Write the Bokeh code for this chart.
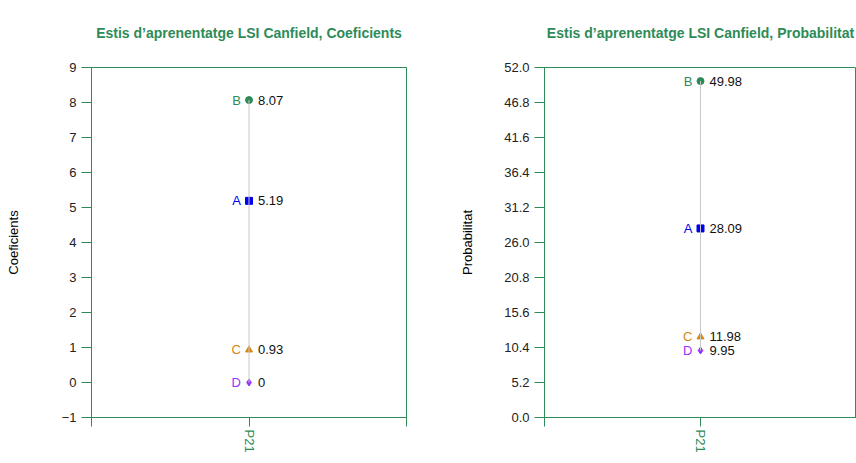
from bokeh.plotting import figure
from bokeh.layouts import row
from bokeh.models import ColumnDataSource, FixedTicker, Title, PrintfTickFormatter, Range1d
from bokeh.core.properties import value
from bokeh.embed import file_html
from bokeh.resources import INLINE

categories = ["P21"]
groups = ["B", "A", "C", "D"]
coef_values = [8.07, 5.19, 0.93, 0]
prob_values = [49.98, 28.09, 11.98, 9.95]
coef_labels = ["8.07", "5.19", "0.93", "0"]
prob_labels = ["49.98", "28.09", "11.98", "9.95"]
coef_ticks = [-1, 0, 1, 2, 3, 4, 5, 6, 7, 8, 9]
prob_ticks = [0.0, 5.2, 10.4, 15.6, 20.8, 26.0, 31.2, 36.4, 41.6, 46.8, 52.0]
group_colors = ["#2e8b57", "#0000ee", "#d4870e", "#9b30ff"]
group_markers = ["circle", "square", "triangle", "diamond"]

GREEN = "#2e8b57"
FONT = "Liberation Sans"
FS = "13px"


def make_panel(title, ylabel, values, labels, ticks, fmt, width, border_left, border_right,
               label_standoff, overrides):
    xpos = [categories.index("P21") + 1] * len(values)
    p = figure(width=width, height=460, output_backend="svg", toolbar_location=None,
               x_range=Range1d(0, 2), y_range=Range1d(ticks[0], ticks[-1]),
               min_border_left=border_left, min_border_right=border_right,
               min_border_top=67, min_border_bottom=43)
    p.title = Title(text=title, align="center", vertical_align="top", text_color=GREEN,
                    text_font_size="14px", text_font_style="bold", text_font=FONT,
                    standoff=49)
    p.grid.visible = False
    p.background_fill_color = "white"
    p.border_fill_color = "white"
    p.outline_line_color = GREEN
    p.outline_line_width = 1

    # axes
    p.yaxis.ticker = FixedTicker(ticks=ticks)
    if fmt:
        p.yaxis.formatter = PrintfTickFormatter(format=fmt)
    if overrides:
        p.yaxis.major_label_overrides = overrides
    p.yaxis.axis_label = ylabel
    p.yaxis.axis_label_text_font = FONT
    p.yaxis.axis_label_text_font_size = FS
    p.yaxis.axis_label_text_font_style = "normal"
    p.yaxis.axis_label_text_color = "black"
    p.yaxis.axis_label_standoff = label_standoff
    p.yaxis.major_label_text_font = FONT
    p.yaxis.major_label_text_font_size = FS
    p.yaxis.major_label_text_color = "#222222"
    p.yaxis.major_label_standoff = 5
    p.yaxis.axis_line_color = GREEN
    p.yaxis.major_tick_line_color = GREEN
    p.yaxis.major_tick_out = 10
    p.yaxis.major_tick_in = 0
    p.yaxis.minor_tick_line_color = None

    p.xaxis.ticker = FixedTicker(ticks=[0, 1, 2])
    p.xaxis.major_label_overrides = {0: "", 1: categories[0], 2: ""}
    p.xaxis.major_label_orientation = "vertical"
    p.xaxis.major_label_text_font = FONT
    p.xaxis.major_label_text_font_size = FS
    p.xaxis.major_label_text_color = GREEN
    p.xaxis.major_label_standoff = 3
    p.xaxis.axis_line_color = GREEN
    p.xaxis.major_tick_line_color = GREEN
    p.xaxis.major_tick_out = 9
    p.xaxis.major_tick_in = 0
    p.xaxis.minor_tick_line_color = None

    src = ColumnDataSource(dict(x=xpos, y=values, g=groups, lab=labels,
                                color=group_colors, marker=group_markers))
    p.scatter("x", "y", source=src, marker="marker", size=7, fill_color="color",
              line_color="color")
    p.segment(x0=[xpos[0]], y0=[min(values)], x1=[xpos[0]], y1=[max(values)],
              line_color="#c8c8c8", line_width=1)
    p.text("x", "y", text="g", source=src, text_color="color", text_align="right",
           text_baseline="middle", x_offset=-8, text_font_size=FS, text_font=value(FONT))
    p.text("x", "y", text="lab", source=src, text_color="#111111", text_align="left",
           text_baseline="middle", x_offset=9, text_font_size=FS, text_font=value(FONT))
    return p


p1 = make_panel("Estis d\u2019aprenentatge LSI Canfield, Coeficients", "Coeficients",
                coef_values, coef_labels, coef_ticks, None, 432, 91, 26, 38, {-1: "\u22121"})
p2 = make_panel("Estis d\u2019aprenentatge LSI Canfield, Probabilitat", "Probabilitat",
                prob_values, prob_labels, prob_ticks, "%.1f", 424, 112, 0, 26, None)

layout = row(p1, p2)
open("out.html", "w").write(file_html(layout, INLINE))
